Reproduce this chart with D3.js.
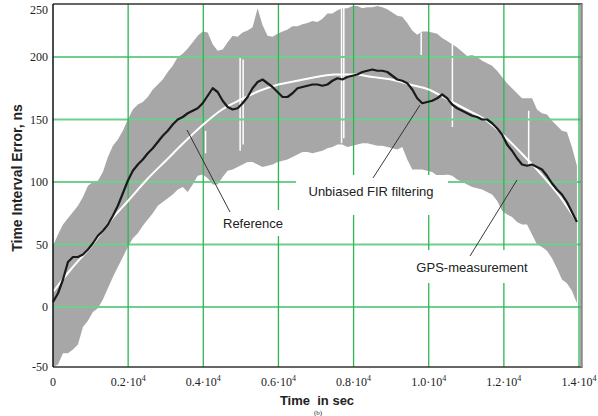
<!DOCTYPE html>
<html>
<head>
<meta charset="utf-8">
<script src="https://cdn.jsdelivr.net/npm/d3@7/dist/d3.min.js"></script>
<style>
  body { margin: 0; background: #fff; }
  svg { display: block; }
</style>
</head>
<body>
<svg id="chart" width="598" height="416"></svg>
<script>
// time grid (s) for the GPS band and the FIR estimate
const TIME = [0, 133, 266, 398, 531, 664, 797, 930, 1062, 1195, 1328, 1461, 1594, 1726, 1859, 1992,
  2125, 2258, 2390, 2523, 2656, 2789, 2922, 3054, 3187, 3320, 3453, 3586, 3718, 3851, 3984,
  4117, 4250, 4382, 4515, 4648, 4781, 4914, 5046, 5179, 5312, 5445, 5578, 5710, 5843, 5976,
  6109, 6242, 6374, 6507, 6640, 6773, 6906, 7038, 7171, 7304, 7437, 7570, 7702, 7835, 7968,
  8101, 8234, 8366, 8499, 8632, 8765, 8898, 9030, 9163, 9296, 9429, 9562, 9694, 9827, 9960,
  10093, 10226, 10358, 10491, 10624, 10757, 10890, 11022, 11155, 11288, 11421, 11554, 11686,
  11819, 11952, 12085, 12218, 12350, 12483, 12616, 12749, 12882, 13014, 13147, 13280, 13413,
  13546, 13678, 13811, 13944];

// GPS-measurement envelope (ns)
const GPS_UPPER = [49, 58, 66, 71, 76, 81, 88, 97, 100, 101, 108, 120, 129, 134, 141, 150,
  158, 162, 164, 168, 174, 178, 182, 188, 193, 200, 203, 208, 214, 220, 224,
  223, 212, 206, 207, 214, 220, 219, 223, 225, 228, 246, 230, 220, 219, 222,
  224, 226, 229, 229, 231, 232, 234, 233, 236, 241, 241, 244, 246, 246, 248,
  248, 246, 247, 247, 248, 247, 245, 242, 239, 238, 232, 225, 221, 224, 224,
  223, 222, 218, 215, 212, 209, 205, 201, 202, 200, 197, 195, 193, 189, 184,
  179, 175, 171, 167, 167, 167, 158, 155, 154, 149, 145, 141, 140, 128, 113];
const GPS_LOWER = [-52, -46, -37, -37, -34, -30, -16, -11, -4, -1, 6, 15, 24, 32, 40, 48,
  55, 59, 65, 70, 75, 81, 84, 87, 90, 94, 96, 92, 98, 105, 106,
  103, 98, 98, 104, 109, 110, 112, 114, 116, 116, 114, 112, 113, 114, 116,
  117, 118, 120, 122, 124, 124, 123, 124, 125, 127, 128, 130, 130, 128, 129,
  130, 131, 131, 130, 129, 129, 128, 127, 126, 128, 118, 110, 110, 110, 109,
  108, 105, 105, 106, 105, 102, 100, 98, 96, 95, 94, 92, 90, 85, 77,
  74, 72, 68, 66, 66, 58, 50, 48, 45, 39, 31, 22, 19, 13, 3];

// unbiased FIR filtering estimate (ns)
const FIR = [4, 11, 22, 36, 40, 40, 42, 46, 51, 57, 61, 66, 73, 81, 91, 101,
  109, 114, 118, 123, 127, 132, 137, 141, 146, 150, 152, 155, 157, 159, 163,
  169, 175, 172, 165, 160, 158, 159, 163, 168, 175, 180, 182, 179, 176, 172,
  168, 168, 171, 175, 176, 177, 178, 178, 177, 178, 181, 183, 182, 184, 185,
  186, 188, 189, 190, 189, 189, 188, 185, 182, 181, 179, 174, 167, 163, 164,
  165, 167, 170, 167, 162, 159, 157, 155, 153, 152, 150, 150, 147, 143, 138,
  130, 125, 119, 114, 113, 114, 112, 110, 105, 99, 94, 90, 84, 76, 68];

// reference curve
const REF_TIME = [0, 500, 1000, 1500, 2000, 2500, 3000, 3500, 4000, 4500, 5000, 5500, 6000,
  6500, 7000, 7500, 8000, 8500, 9000, 9500, 10000, 10500, 11000, 11500, 12000, 12500,
  13000, 13500, 13950];
const REF = [12, 31, 48, 68, 85, 102, 117, 132, 146, 158, 166, 173, 178, 181, 184, 186,
  186, 184, 182, 178, 174, 166, 158, 150, 137, 122, 106, 88, 68];

// white dropouts inside the GPS band
const GAP_TIME = [4060, 4980, 5060, 7680, 7740, 9800, 10630, 12660];
const GAP_HIGH = [141, 201, 198, 249, 249, 223, 216, 157];
const GAP_LOW = [123, 125, 130, 131, 135, 202, 144, 113];

const X_TICKS = [0, 2000, 4000, 6000, 8000, 10000, 12000, 14000];
const X_TICK_LABELS = ["0", "0.2", "0.4", "0.6", "0.8", "1.0", "1.2", "1.4"];
const Y_TICKS = [-50, 0, 50, 100, 150, 200, 250];
const Y_GRID = [0, 50, 100, 150, 200];

const svg = d3.select("#chart");
const PLOT = { left: 53, right: 581.5, top: 4, bottom: 367 };

const x = d3.scaleLinear().domain([0, 14066]).range([PLOT.left, PLOT.right]);
// the published axis squeezes the 200..250 span
const y = d3.scaleLinear().domain([-48, 200, 250]).range([PLOT.bottom, 57, PLOT.top]).clamp(true);

const band = TIME.map((t, i) => ({ t: t, hi: GPS_UPPER[i], lo: GPS_LOWER[i], fir: FIR[i] }));
const ref = REF_TIME.map((t, i) => ({ t: t, v: REF[i] }));
const gaps = GAP_TIME.map((t, i) => ({ t: t, hi: GAP_HIGH[i], lo: GAP_LOW[i] }));

// gray GPS band
svg.append("path")
  .datum(band)
  .attr("fill", "#a7a7a7")
  .attr("d", d3.area().x(d => x(d.t)).y0(d => y(d.lo)).y1(d => y(d.hi)));

svg.append("g")
  .selectAll("line")
  .data(gaps)
  .join("line")
  .attr("x1", d => x(d.t)).attr("x2", d => x(d.t))
  .attr("y1", d => y(d.hi)).attr("y2", d => y(d.lo))
  .attr("stroke", "#fff")
  .attr("stroke-width", 1.5);

// grid
svg.append("g")
  .selectAll("line")
  .data(Y_GRID)
  .join("line")
  .attr("x1", PLOT.left).attr("x2", PLOT.right)
  .attr("y1", d => y(d)).attr("y2", d => y(d))
  .attr("stroke", "#6fcf8c")
  .attr("stroke-width", 2);

svg.append("g")
  .selectAll("line")
  .data(X_TICKS.slice(1))
  .join("line")
  .attr("x1", d => x(d)).attr("x2", d => x(d))
  .attr("y1", PLOT.top).attr("y2", PLOT.bottom)
  .attr("stroke", "#2fb552")
  .attr("stroke-width", 1.3);

// reference and FIR lines
svg.append("path")
  .datum(ref)
  .attr("fill", "none")
  .attr("stroke", "#fff")
  .attr("stroke-width", 2)
  .attr("d", d3.line().x(d => x(d.t)).y(d => y(d.v)).curve(d3.curveMonotoneX));

svg.append("path")
  .datum(band)
  .attr("fill", "none")
  .attr("stroke", "#1a1a1a")
  .attr("stroke-width", 2.2)
  .attr("stroke-linejoin", "round")
  .attr("d", d3.line().x(d => x(d.t)).y(d => y(d.fir)));

// annotation boxes hide the grid behind the labels
const notes = [
  { text: "Reference", box: [218, 210, 70, 26], tx: 253, ty: 228, from: [187, 130], to: [230, 212] },
  { text: "Unbiased FIR filtering", box: [296, 175, 152, 40], tx: 371, ty: 196, from: [420, 105], to: [373, 178] },
  { text: "GPS-measurement", box: [410, 250, 126, 33], tx: 472, ty: 272, from: [517, 180], to: [470, 256] }
];

svg.append("g")
  .selectAll("rect")
  .data(notes)
  .join("rect")
  .attr("x", d => d.box[0]).attr("y", d => d.box[1])
  .attr("width", d => d.box[2]).attr("height", d => d.box[3])
  .attr("fill", "#fff");

svg.append("g")
  .selectAll("text")
  .data(notes)
  .join("text")
  .attr("x", d => d.tx).attr("y", d => d.ty)
  .attr("text-anchor", "middle")
  .attr("font-family", "Liberation Sans, Arial, sans-serif")
  .attr("font-size", 13)
  .attr("fill", "#222")
  .text(d => d.text);

svg.append("g")
  .selectAll("line")
  .data(notes)
  .join("line")
  .attr("x1", d => d.from[0]).attr("y1", d => d.from[1])
  .attr("x2", d => d.to[0]).attr("y2", d => d.to[1])
  .attr("stroke", "#222")
  .attr("stroke-width", 0.9);

// frame
svg.append("line").attr("x1", PLOT.left).attr("x2", PLOT.right + 1).attr("y1", PLOT.top).attr("y2", PLOT.top)
  .attr("stroke", "#333").attr("stroke-width", 1.5);
svg.append("line").attr("x1", PLOT.left).attr("x2", PLOT.right + 1).attr("y1", PLOT.bottom).attr("y2", PLOT.bottom)
  .attr("stroke", "#333").attr("stroke-width", 1.5);
svg.append("line").attr("x1", PLOT.right).attr("x2", PLOT.right).attr("y1", PLOT.top).attr("y2", PLOT.bottom)
  .attr("stroke", "#8a8a8a").attr("stroke-width", 2.5);
svg.append("line").attr("x1", PLOT.left).attr("x2", PLOT.left).attr("y1", PLOT.top).attr("y2", PLOT.bottom)
  .attr("stroke", "#111").attr("stroke-width", 1.5);

// tick labels; the top one sits just under the frame
svg.append("g")
  .selectAll("text")
  .data(Y_TICKS)
  .join("text")
  .attr("x", 48)
  .attr("y", d => d === 250 ? 14 : y(d) + 4)
  .attr("text-anchor", "end")
  .attr("font-family", "Liberation Serif, Times New Roman, serif")
  .attr("font-size", 12)
  .attr("fill", "#222")
  .text(d => d);

const xl = svg.append("g")
  .selectAll("text")
  .data(X_TICKS)
  .join("text")
  .attr("x", d => x(d))
  .attr("y", 386)
  .attr("text-anchor", "middle")
  .attr("font-family", "Liberation Serif, Times New Roman, serif")
  .attr("font-size", 12)
  .attr("fill", "#222");

xl.append("tspan").text((d, i) => i === 0 ? X_TICK_LABELS[i] : X_TICK_LABELS[i] + "\u00b710");
xl.filter((d, i) => i > 0)
  .append("tspan")
  .attr("dy", -5)
  .attr("font-size", 8)
  .text("4");

// axis titles
svg.append("text")
  .attr("x", 317).attr("y", 405)
  .attr("text-anchor", "middle")
  .attr("font-family", "Liberation Sans, Arial, sans-serif")
  .attr("font-weight", "bold")
  .attr("font-size", 13)
  .attr("fill", "#222")
  .attr("xml:space", "preserve")
  .text("Time  in sec");

svg.append("text")
  .attr("transform", "translate(22,178) rotate(-90)")
  .attr("text-anchor", "middle")
  .attr("font-family", "Liberation Sans, Arial, sans-serif")
  .attr("font-weight", "bold")
  .attr("font-size", 14)
  .attr("fill", "#222")
  .text("Time Interval Error, ns");

svg.append("text")
  .attr("x", 318).attr("y", 415)
  .attr("text-anchor", "middle")
  .attr("font-family", "Liberation Serif, Times New Roman, serif")
  .attr("font-size", 7)
  .attr("fill", "#222")
  .text("(b)");
</script>
</body>
</html>
